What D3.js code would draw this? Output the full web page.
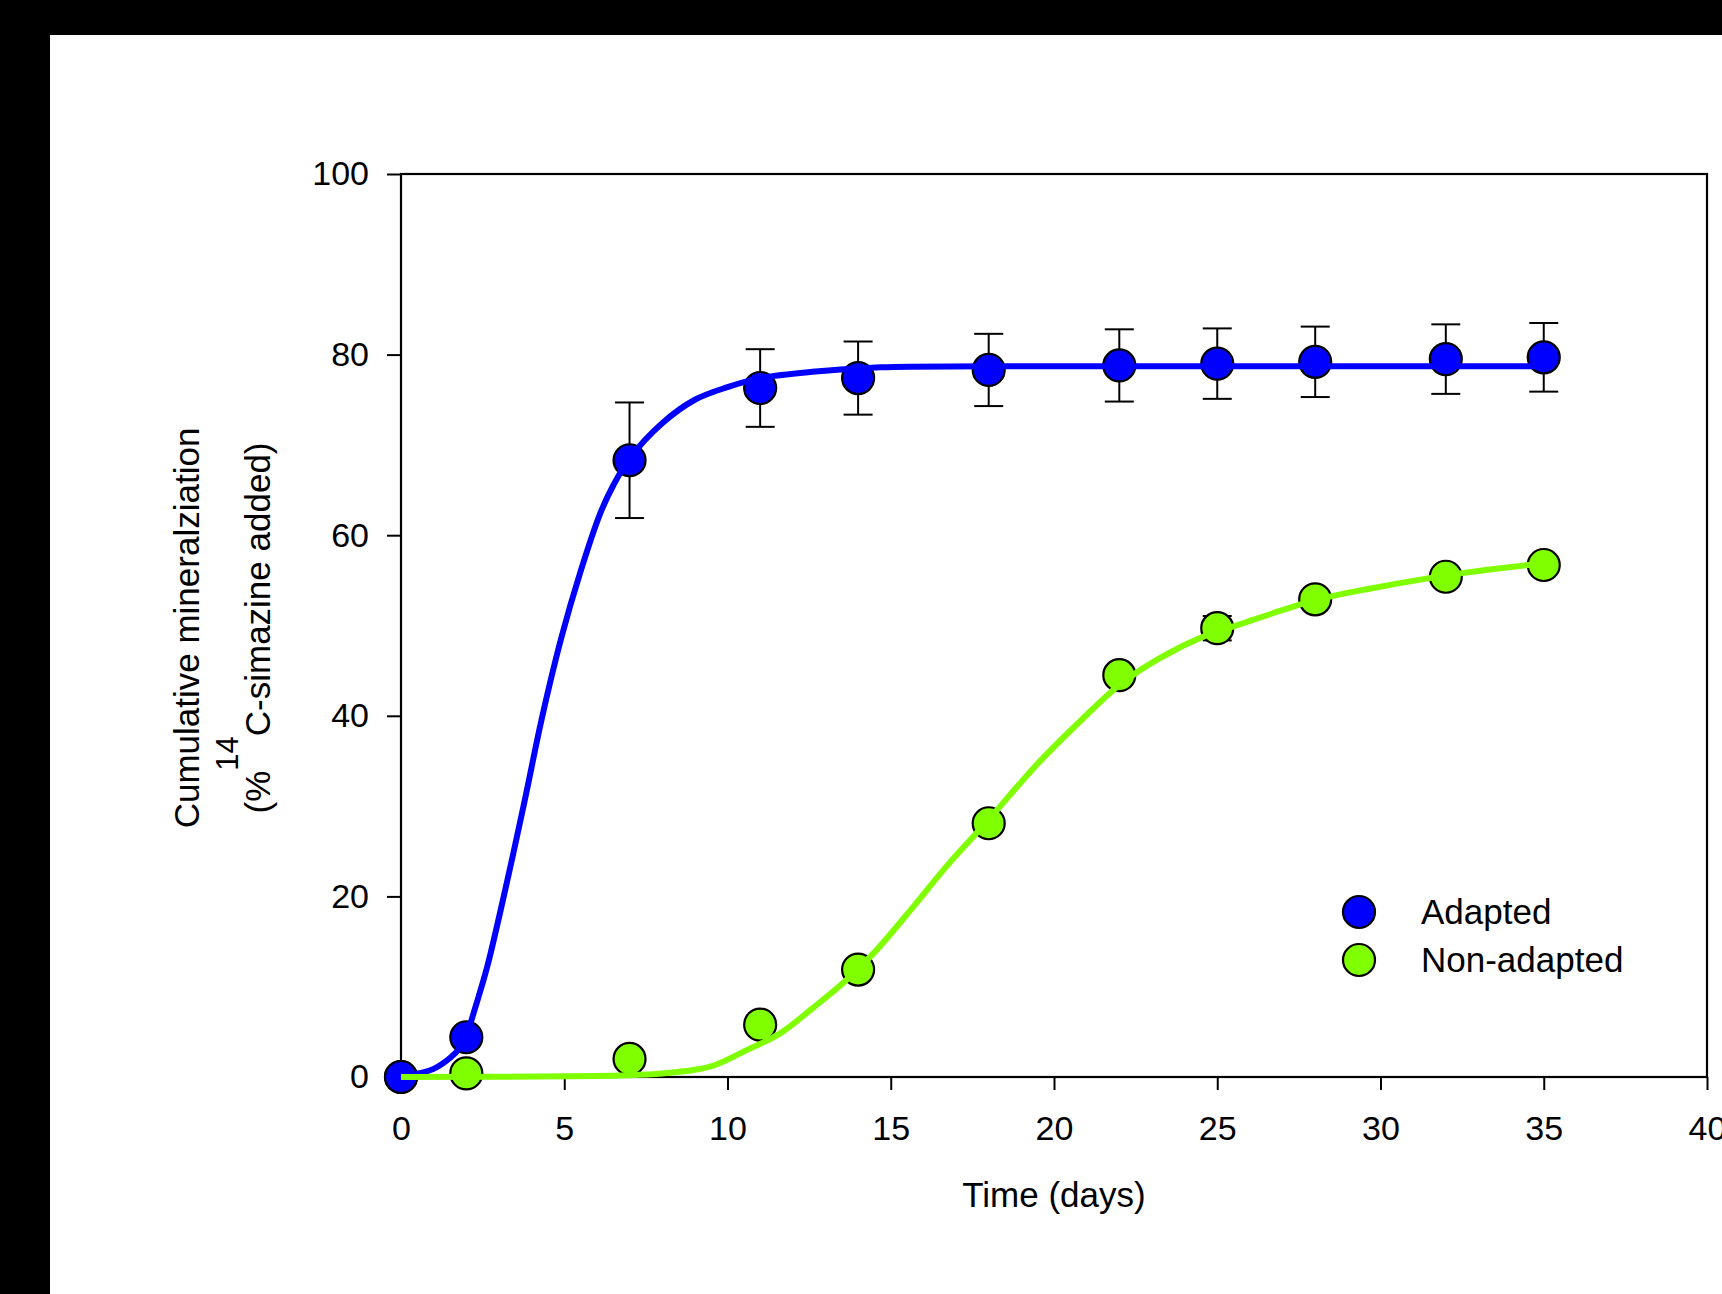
<!DOCTYPE html>
<html>
<head>
<meta charset="utf-8">
<script src="https://cdnjs.cloudflare.com/ajax/libs/d3/7.8.5/d3.min.js"></script>
<style>
  body { margin: 0; background: #000; }
  svg { display: block; }
  text { font-family: "Liberation Sans", Arial, sans-serif; fill: #000; }
</style>
</head>
<body>
<div id="chart_wrapper"></div>
<script>
// measured points
var days = [0, 2, 7, 11, 14, 18, 22, 25, 28, 32, 35];
var adapted = [0, 4.4, 68.3, 76.3, 77.4, 78.3, 78.8, 79.0, 79.2, 79.5, 79.7];
var adaptedErr = [0, 0.5, 6.4, 4.3, 4.05, 4.0, 4.0, 3.9, 3.9, 3.85, 3.8];
var nonAdapted = [0, 0.4, 2.0, 5.8, 11.9, 28.1, 44.5, 49.7, 52.9, 55.4, 56.7];
var nonAdaptedErr = [0, 0.3, 0.5, 0.6, 0.6, 0.8, 0.8, 1.35, 0.6, 0.6, 0.5];

// fitted curves
var fitDaysA = [0, 0.5, 1, 1.5, 1.8, 2, 2.3, 2.64, 3.24, 3.8, 4.3, 4.9, 5.5, 6.1, 6.5, 7, 8, 9, 10, 11, 12.6, 14.7, 18, 35];
var fitA = [0, 0.35, 0.9, 2.1, 3.2, 4.6, 8, 12.2, 21.5, 30.8, 39.5, 48.5, 56, 62.4, 65.5, 68.5, 72.4, 75, 76.4, 77.4, 78.1, 78.6, 78.7, 78.7];
var fitDaysN = [0, 6, 7, 8, 9, 9.6, 10.6, 11.6, 12.6, 13.6, 14.5, 15.7, 16.7, 17.9, 19.5, 20.8, 22, 23.2, 24.6, 25.5, 28, 29.7, 32.5, 35];
var fitN = [0, 0.1, 0.2, 0.4, 0.8, 1.3, 3.0, 4.8, 7.6, 10.6, 13.8, 18.9, 23.3, 28.1, 34.7, 39.4, 43.4, 46.3, 48.8, 49.9, 52.8, 54.1, 55.8, 56.9];

var xTicks = [0, 5, 10, 15, 20, 25, 30, 35, 40];
var yTicks = [0, 20, 40, 60, 80, 100];
var seriesNames = ["Adapted", "Non-adapted"];
var seriesColors = ["#0000ff", "#80ff00"];

var width = 1722, height = 1294;
var plot = {left: 401, right: 1707, top: 174, bottom: 1077};

var svg = d3.select("#chart_wrapper").append("svg")
    .attr("width", width).attr("height", height);

// black strip at top and left, white page
svg.append("rect").attr("width", width).attr("height", height).attr("fill", "#000");
svg.append("rect").attr("x", 50).attr("y", 35).attr("width", width - 50).attr("height", height - 35).attr("fill", "#fff");

var x = d3.scaleLinear().domain([0, 40]).range([plot.left, plot.right]);
var y = d3.scaleLinear().domain([0, 100]).range([plot.bottom, plot.top]);

// axes
var gx = svg.append("g")
    .attr("transform", "translate(0," + plot.bottom + ")")
    .call(d3.axisBottom(x).tickValues(xTicks).tickSizeInner(13).tickSizeOuter(0).tickPadding(26));
var gy = svg.append("g")
    .attr("transform", "translate(" + plot.left + ",0)")
    .call(d3.axisLeft(y).tickValues(yTicks).tickSizeInner(14).tickSizeOuter(0).tickPadding(18));

[gx, gy].forEach(function(g) {
    g.select(".domain").remove();
    g.selectAll(".tick line").attr("stroke", "#000").attr("stroke-width", 2);
    g.selectAll(".tick text").style("font-size", "34px").attr("font-family", null);
});

// frame
svg.append("rect")
    .attr("x", plot.left).attr("y", plot.top)
    .attr("width", plot.right - plot.left).attr("height", plot.bottom - plot.top)
    .attr("fill", "none").attr("stroke", "#000").attr("stroke-width", 2.2);

// axis titles
svg.append("text")
    .attr("x", (plot.left + plot.right) / 2).attr("y", 1207)
    .attr("text-anchor", "middle").style("font-size", "35px")
    .text("Time (days)");

var ty = svg.append("g").attr("transform", "translate(0,628) rotate(-90)");
ty.append("text")
    .attr("x", 0).attr("y", 199)
    .attr("text-anchor", "middle").style("font-size", "35px")
    .text("Cumulative mineralziation");
var t2 = ty.append("text")
    .attr("x", 0).attr("y", 270)
    .attr("text-anchor", "middle").style("font-size", "35px");
t2.append("tspan").text("(%");
t2.append("tspan").attr("dy", -32).style("font-size", "31px").text("14");
t2.append("tspan").attr("dy", 32).text("C-simazine added)");

// series
var series = [
    {name: seriesNames[0], color: seriesColors[0], values: adapted, err: adaptedErr, fx: fitDaysA, fy: fitA},
    {name: seriesNames[1], color: seriesColors[1], values: nonAdapted, err: nonAdaptedErr, fx: fitDaysN, fy: fitN}
];

var line = d3.line()
    .x(function(d) { return x(d[0]); })
    .y(function(d) { return y(d[1]); })
    .curve(d3.curveCatmullRom.alpha(0.5));

// draw non-adapted points first, adapted on top, then fitted lines over them
[series[1], series[0]].forEach(function(s) {
    var pts = days.map(function(d, i) { return {day: d, v: s.values[i], e: s.err[i]}; });
    var eb = svg.append("g").attr("stroke", "#000").attr("stroke-width", 2);
    pts.filter(function(p) { return p.e > 0; }).forEach(function(p) {
        eb.append("line").attr("x1", x(p.day)).attr("x2", x(p.day))
            .attr("y1", y(p.v - p.e)).attr("y2", y(p.v + p.e));
        eb.append("line").attr("x1", x(p.day) - 14.5).attr("x2", x(p.day) + 14.5)
            .attr("y1", y(p.v + p.e)).attr("y2", y(p.v + p.e));
        eb.append("line").attr("x1", x(p.day) - 14.5).attr("x2", x(p.day) + 14.5)
            .attr("y1", y(p.v - p.e)).attr("y2", y(p.v - p.e));
    });
    svg.append("g").selectAll("circle").data(pts).enter().append("circle")
        .attr("cx", function(p) { return x(p.day); })
        .attr("cy", function(p) { return y(p.v); })
        .attr("r", 16)
        .attr("fill", s.color)
        .attr("stroke", "#000").attr("stroke-width", 2.2);
});

series.forEach(function(s) {
    svg.append("path")
        .datum(s.fx.map(function(d, i) { return [d, s.fy[i]]; }))
        .attr("d", line)
        .attr("fill", "none")
        .attr("stroke", s.color)
        .attr("stroke-width", 6);
});

// legend
var legend = svg.append("g").selectAll(".legend_item").data(series).enter().append("g")
    .attr("class", "legend_item")
    .attr("transform", function(d, i) { return "translate(1359," + (912 + i * 48) + ")"; });
legend.append("circle").attr("r", 16)
    .attr("fill", function(d) { return d.color; })
    .attr("stroke", "#000").attr("stroke-width", 2.2);
legend.append("text").attr("x", 62).attr("y", 12)
    .style("font-size", "35px")
    .text(function(d) { return d.name; });
</script>
</body>
</html>
